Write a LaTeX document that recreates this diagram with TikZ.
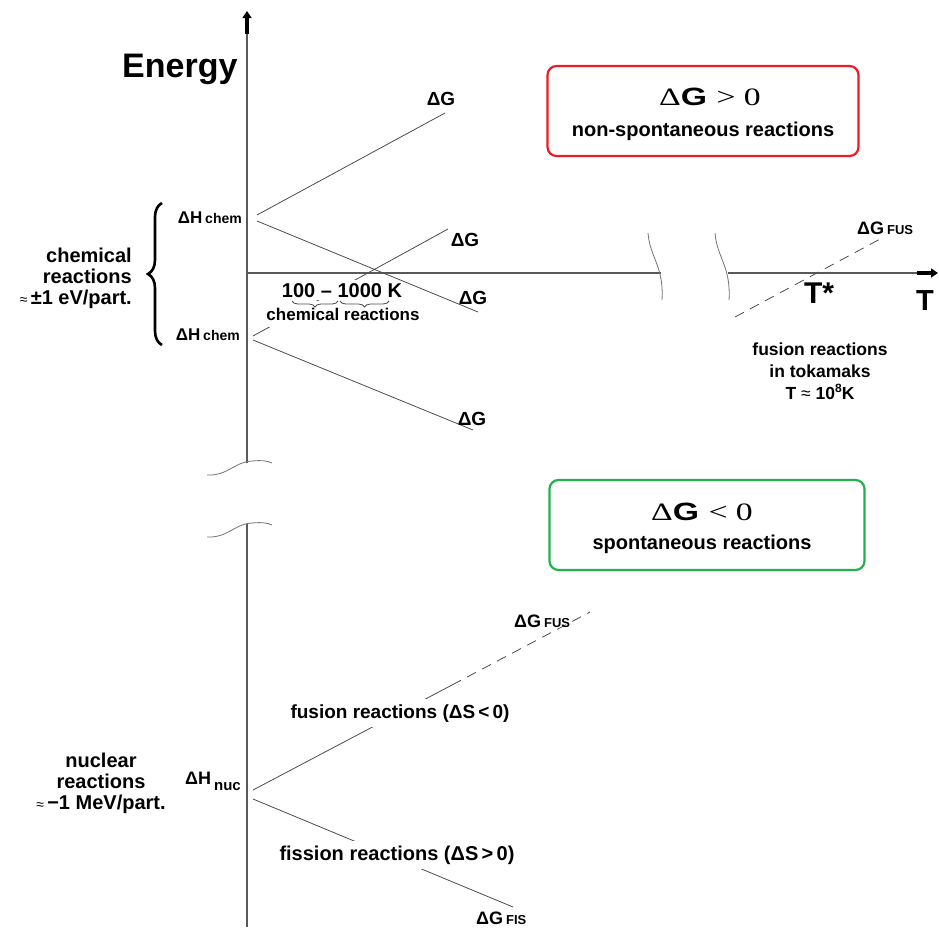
\documentclass[tikz,border=0pt]{standalone}
\usepackage{graphicx}
\usepackage{fontspec}
\setmainfont{Liberation Sans}
\newfontfamily\timesfont{Liberation Serif}
\usepackage{tikz}
\usetikzlibrary{arrows.meta,decorations.pathreplacing}

\definecolor{boxred}{RGB}{237,28,36}
\definecolor{boxgreen}{RGB}{34,177,76}
\newcommand\setfs[1]{\fontsize{#1}{#1}\selectfont}

\begin{document}
\begin{tikzpicture}[x=1pt, y=-1pt, every node/.style={inner sep=0pt},
	line/.style={black!70, line width=0.8pt},
	fusdash/.style={line, dash pattern=on 10pt off 7pt},
	axis/.style={black!65, line width=1.1pt},
	wave/.style={black!55, line width=0.8pt},
	stub/.style={line width=3.5pt, -{Triangle[length=7pt,width=9pt]}},
	lbl/.style={font=\bfseries\setfs{19}},
	hlbl/.style={font=\bfseries\setfs{17}},
	reaction/.style={font=\bfseries\setfs{19}, fill=white, inner xsep=2pt, inner ysep=5pt},
	sidetext/.style={font=\bfseries\fontsize{20}{21}\selectfont},
	infobox/.style={draw, line width=2.2pt, rounded corners=9pt, minimum width=311pt, minimum height=90pt},
	boxhead/.style={font=\bfseries\setfs{25}},
	boxtext/.style={font=\bfseries\setfs{20}}]
	\useasboundingbox (0,0) rectangle (939,927);

	% axes
	\coordinate (O) at (247,273);
	\coordinate (Etop) at (247,34);
	\coordinate (Etip) at (247,11);
	\coordinate (Ecut1) at (247,463);  % upper break
	\coordinate (Ecut2) at (247,524);  % lower break
	\coordinate (Ebot) at (247,927);
	\coordinate (Tcut1) at (661,273);
	\coordinate (Tcut2) at (728,273);
	\coordinate (Tend) at (917,273);
	\coordinate (Ttip) at (938,273);
	\draw[axis] (Ebot) -- (Ecut2);
	\draw[axis] (Ecut1) -- (Etop);
	\draw[stub] (Etop) -- (Etip);
	\draw[axis] (O) -- (Tcut1);
	\draw[axis] (Tcut2) -- (Tend);
	\draw[stub] (Tend) -- (Ttip);
	\draw[wave] (648,233) .. controls (650,258) and (664,266) .. (662,300);
	\draw[wave] (715,233) .. controls (717,258) and (731,266) .. (729,300);
	\draw[wave] (207,475) .. controls (228,476) and (234,462) .. (252,461) .. controls (262,460) and (268,461) .. (272,463);
	\draw[wave] (207,537) .. controls (228,538) and (234,524) .. (252,523) .. controls (262,522) and (268,523) .. (272,525);
	\node[font=\bfseries\setfs{34}, anchor=base west] (energy) at (122,77) {Energy};
	\node[font=\bfseries\setfs{30}, anchor=base] (Tstar) at (819,303) {T*};
	\node[font=\bfseries\setfs{29}, anchor=base] (Tlbl) at (925,310) {T};

	% chemical reactions
	\coordinate (Hc1a) at (257,215);
	\coordinate (Hc1b) at (257,221);
	\coordinate (Hc2a) at (253,336);
	\coordinate (Hc2b) at (253,340);
	\coordinate (G1) at (445,113);
	\coordinate (G2) at (448,229);
	\coordinate (G3) at (478,312);
	\coordinate (G4) at (473,430);
	\draw[line] (Hc1a) -- (G1);
	\draw[line] (Hc2a) -- (G2);
	\draw[line] (Hc2b) -- (G4);
	\node[font=\bfseries\setfs{17}, fill=white, inner xsep=4pt, inner ysep=7pt, anchor=base] (chemrange) at (343,320) {chemical reactions};
	\node[font=\bfseries\setfs{20}, fill=white, inner sep=3pt, anchor=base] (range) at (342,297) {100 – 1000 K};
	\draw[line] (Hc1b) -- (G3);
	\draw[line, decorate, decoration={brace, mirror, amplitude=6pt}] (292,301) -- (338,301);
	\draw[line, decorate, decoration={brace, mirror, amplitude=6pt}] (340,301) -- (389,301);
	\node[lbl] (dG1) at (441,99) {ΔG};
	\node[lbl] (dG2) at (465,240) {ΔG};
	\node[lbl] (dG3) at (473,298) {ΔG};
	\node[lbl] (dG4) at (472,419) {ΔG};
	\node[hlbl, anchor=base east] (Hchem1) at (242,223) {ΔH\,{\setfs{14}chem}};
	\node[hlbl, anchor=base east] (Hchem2) at (240,340) {ΔH\,{\setfs{14}chem}};
	\coordinate (Bbot) at (162,345);
	\coordinate (Btop) at (162,203);
	\draw[decorate, decoration={brace, amplitude=14pt}, line width=2.6pt] (Bbot) -- (Btop);
	\node[sidetext, align=right, anchor=north east] (chemtxt) at (132,248) {chemical\\reactions\\{\mdseries\setfs{14}≈}\,±1 eV/part.};

	% fusion in tokamaks
	\coordinate (Tf1) at (735,317);
	\coordinate (Tf2) at (882,238);
	\draw[fusdash] (Tf1) -- (Tf2);
	\node[font=\bfseries\setfs{18}, anchor=base west] (dGfus1) at (857,234) {ΔG\,{\setfs{13}FUS}};
	\node[font=\bfseries\fontsize{17.5}{22}\selectfont, align=center, anchor=north] (toka) at (820,343) {fusion reactions\\in tokamaks\\T {\mdseries≈} 10\raisebox{7pt}{\setfs{12}8}K};

	% sign of Delta G
	\node[infobox, draw=boxred] (posbox) at (703,111) {};
	\node[boxhead, anchor=base] (posdg) at (710,105) {\scalebox{1.35}[1]{{\timesfont\mdseries Δ}G {\timesfont\mdseries > 0}}};
	\node[boxtext, anchor=base] (posname) at (703,136) {non-spontaneous reactions};
	\node[infobox, draw=boxgreen, minimum width=315pt] (negbox) at (707,525) {};
	\node[boxhead, anchor=base] (negdg) at (702,520) {\scalebox{1.35}[1]{{\timesfont\mdseries Δ}G {\timesfont\mdseries < 0}}};
	\node[boxtext, anchor=base] (negname) at (702,549) {spontaneous reactions};

	% nuclear reactions
	\coordinate (Hn1) at (253,790);
	\coordinate (Hn2) at (253,799);
	\coordinate (Fkink) at (452,685);
	\coordinate (Fend) at (590,612);
	\coordinate (Gfis) at (513,907);
	\draw[line] (Hn1) -- (Fkink);
	\draw[fusdash] (Fkink) -- (Fend);
	\draw[line] (Hn2) -- (Gfis);
	\node[reaction, anchor=base] (fusion) at (400,718) {fusion reactions (ΔS\,<\,0)};
	\node[reaction, font=\bfseries\setfs{20}, anchor=base] (fission) at (397,860) {fission reactions (ΔS\,>\,0)};
	\node[font=\bfseries\setfs{18}, anchor=base west] (dGfus2) at (514,627) {ΔG\,{\setfs{13}FUS}};
	\node[font=\bfseries\setfs{18}, anchor=base west] (dGfis) at (476,924) {ΔG\,{\setfs{13}FIS}};
	\node[font=\bfseries\setfs{18}, anchor=base east] (Hnuc) at (241,784) {ΔH\,\raisebox{-6pt}{\setfs{15}nuc}};
	\node[sidetext, align=center, anchor=north] (nuctxt) at (101,753) {nuclear\\reactions\\{\mdseries\setfs{14}≈}\,−1 MeV/part.};
\end{tikzpicture}
\end{document}
